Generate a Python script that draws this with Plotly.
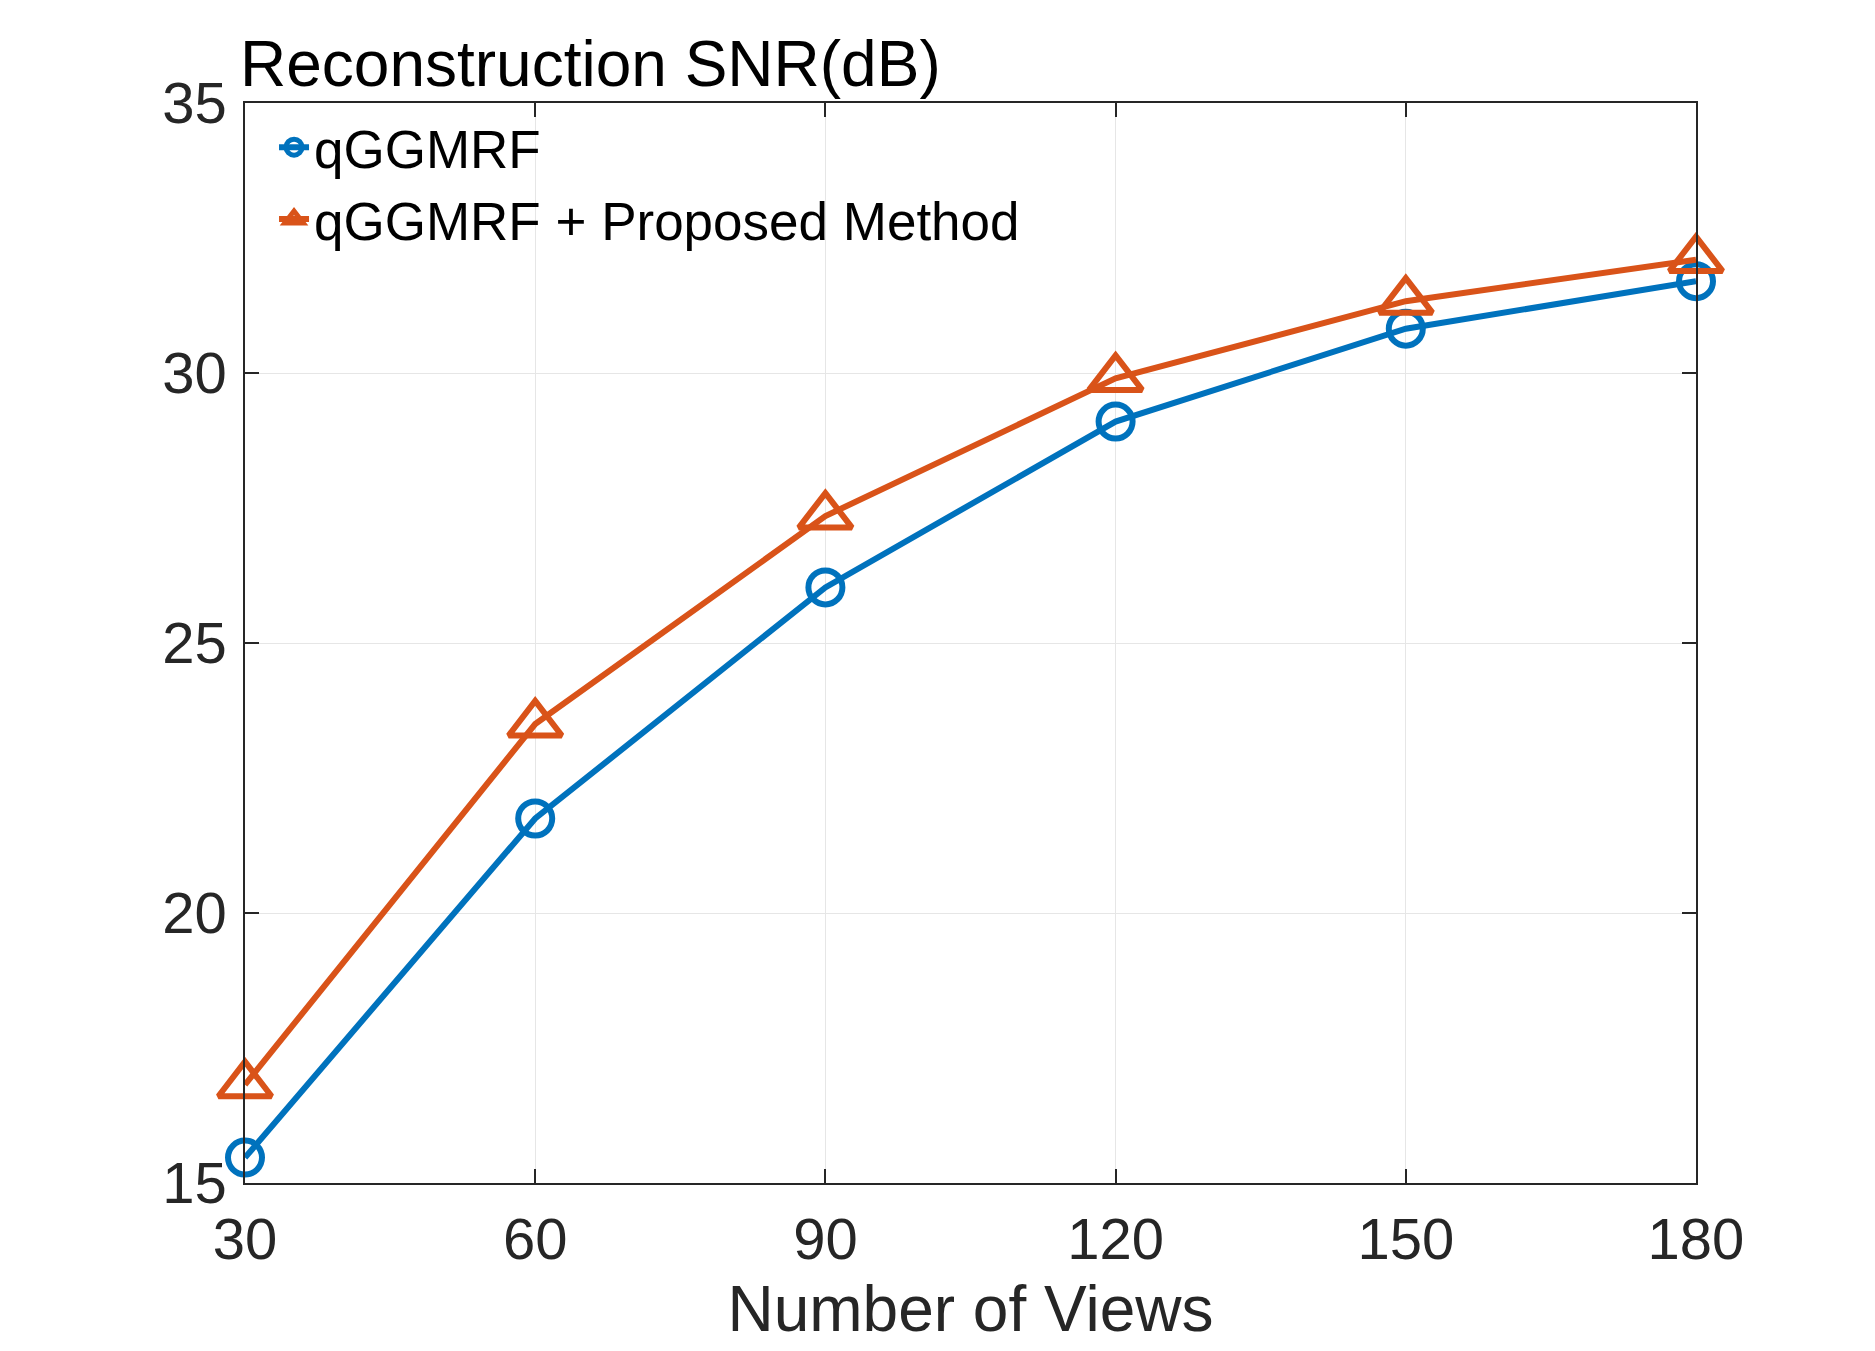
import plotly.graph_objects as go

# Reconstruction SNR vs number of views
views = [30, 60, 90, 120, 150, 180]
snr_qggmrf = [15.47, 21.75, 26.03, 29.10, 30.82, 31.70]
snr_proposed = [16.82, 23.50, 27.35, 29.90, 31.33, 32.10]

x_ticks = [30, 60, 90, 120, 150, 180]
y_ticks = [15, 20, 25, 30, 35]

BLUE = "#0072BD"
ORANGE = "#D95319"
AXIS = "#262626"
FONT = "Liberation Sans, Arial, sans-serif"

fig = go.Figure()
fig.add_trace(go.Scatter(
    x=views, y=snr_qggmrf, name="qGGMRF",
    mode="lines+markers", cliponaxis=False,
    line=dict(color=BLUE, width=6),
    marker=dict(symbol="circle-open", size=34, color=BLUE,
                line=dict(color=BLUE, width=6)),
))
fig.add_trace(go.Scatter(
    x=views, y=snr_proposed, name="qGGMRF + Proposed Method",
    mode="lines+markers", cliponaxis=False,
    line=dict(color=ORANGE, width=6),
    marker=dict(symbol="triangle-up-open", size=46, color=ORANGE,
                line=dict(color=ORANGE, width=6)),
))

axis_common = dict(
    showline=True, linecolor=AXIS, linewidth=1.5, mirror="ticks",
    ticks="inside", ticklen=14, tickwidth=1.5, tickcolor=AXIS,
    showgrid=True, gridcolor="#e6e6e6", gridwidth=1.2,
    zeroline=False,
    tickfont=dict(family=FONT, size=58, color=AXIS),
)

fig.update_xaxes(
    range=[30, 180], tickvals=x_ticks,
    ticklabelstandoff=5,
    title=dict(text="Number of Views", standoff=16,
               font=dict(family=FONT, size=64, color=AXIS)),
    **axis_common,
)
fig.update_yaxes(
    range=[15, 35], tickvals=y_ticks,
    ticklabelstandoff=5,
    **axis_common,
)

fig.add_annotation(
    text="Reconstruction SNR(dB)", xref="paper", yref="paper",
    x=-0.005, y=1.0, xanchor="left", yanchor="bottom", showarrow=False,
    yshift=1,
    font=dict(family=FONT, size=64, color="#000000"),
)

fig.update_layout(
    width=1875, height=1351,
    margin=dict(l=237, r=187, t=95, b=176),
    plot_bgcolor="#ffffff", paper_bgcolor="#ffffff",
    legend=dict(
        x=0.020, y=0.997, xanchor="left", yanchor="top",
        bgcolor="rgba(0,0,0,0)", borderwidth=0,
        font=dict(family=FONT, size=53, color="#000000"),
        itemwidth=30, tracegroupgap=0,
    ),
    showlegend=True,
)

fig.write_html("out.html")
